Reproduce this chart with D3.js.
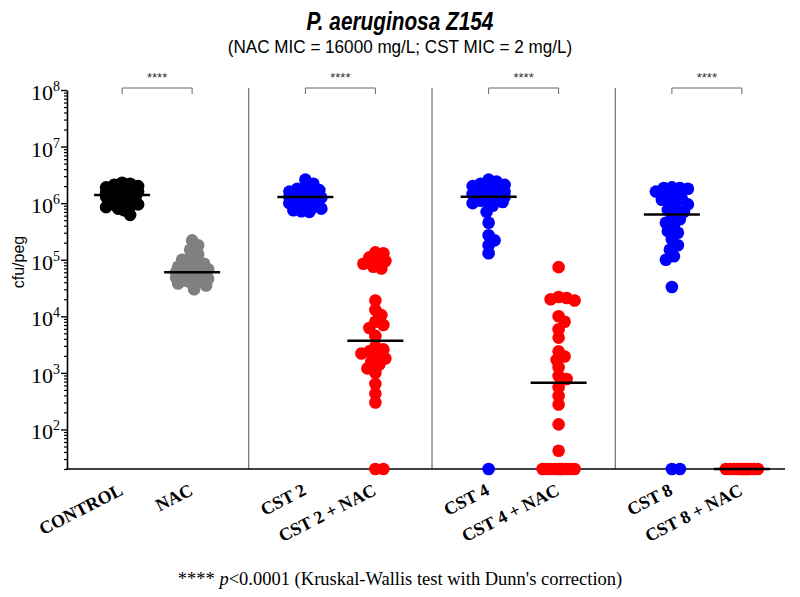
<!DOCTYPE html>
<html>
<head>
<meta charset="utf-8">
<script src="https://cdn.jsdelivr.net/npm/d3@7"></script>
<style>
  body { margin: 0; background: #fff; }
  svg { display: block; }
</style>
</head>
<body>
<div id="chart"></div>
<script>
// chart data (cfu/peg); 20 = below detection limit
var categories = ["CONTROL", "NAC", "CST 2", "CST 2 + NAC", "CST 4", "CST 4 + NAC", "CST 8", "CST 8 + NAC"];
var colors = ["#000000", "#808080", "#0000ff", "#ff0000", "#0000ff", "#ff0000", "#0000ff", "#ff0000"];

var control = [2.3e6, 2.2e6, 2.1e6, 2.0e6, 1.9e6, 1.85e6, 1.8e6, 1.7e6, 1.65e6, 1.6e6, 1.55e6, 1.5e6, 1.45e6, 1.42e6, 1.4e6,
  1.38e6, 1.35e6, 1.3e6, 1.25e6, 1.2e6, 1.15e6, 1.1e6, 1.05e6, 1.0e6, 9.5e5, 9e5, 8.5e5, 8e5, 7.5e5, 6.2e5];
var nac = [2.2e5, 1.8e5, 1.5e5, 1.25e5, 1.1e5, 1.0e5, 9e4, 8.5e4, 8e4, 7.5e4, 7e4, 6.8e4, 6.5e4, 6.2e4, 6e4,
  6e4, 5.8e4, 5.5e4, 5.2e4, 5e4, 5e4, 4.8e4, 4.6e4, 4.5e4, 4.3e4, 4.2e4, 4e4, 3.8e4, 3.5e4, 3e4];
var cst2 = [2.6e6, 2.2e6, 1.9e6, 1.8e6, 1.7e6, 1.6e6, 1.55e6, 1.5e6, 1.45e6, 1.4e6, 1.35e6, 1.3e6, 1.3e6, 1.28e6,
  1.25e6, 1.2e6, 1.15e6, 1.1e6, 1.05e6, 1.0e6, 9.5e5, 9e5, 8.5e5, 8e5, 7.5e5, 7.2e5, 7e5];
var cst2Nac = [1.35e5, 1.3e5, 1.1e5, 1.0e5, 9.5e4, 8.5e4, 7.5e4, 7e4, 1.9e4, 1.3e4, 1.05e4, 8e3, 7e3, 6.2e3, 4.5e3,
  2.9e3, 2.6e3, 2.4e3, 2.2e3, 2.0e3, 1.8e3, 1.6e3, 1.4e3, 1.2e3, 1.0e3, 640, 430, 300, 20, 20];
var cst4 = [2.6e6, 2.4e6, 2.2e6, 2.1e6, 2.0e6, 1.9e6, 1.8e6, 1.75e6, 1.7e6, 1.6e6, 1.55e6, 1.5e6, 1.45e6, 1.4e6, 1.35e6, 1.3e6,
  1.3e6, 1.25e6, 1.2e6, 1.15e6, 1.1e6, 1.1e6, 1.05e6, 1.0e6, 9e5, 7e5, 4.5e5, 2.7e5, 2.2e5, 1.8e5, 1.3e5, 20];
var cst4Nac = [7.4e4, 2.2e4, 2.1e4, 2e4, 1.9e4, 1e4, 8e3, 5.9e3, 4.2e3, 2.4e3, 1.95e3, 1.7e3, 1.26e3, 880, 780,
  560, 390, 277, 123, 42, 20, 20, 20, 20, 20, 20, 20, 20, 20, 20];
var cst8 = [1.9e6, 1.85e6, 1.85e6, 1.8e6, 1.6e6, 1.5e6, 1.4e6, 1.2e6, 1.15e6, 1.08e6, 9.5e5, 8.2e5, 7.6e5, 7e5,
  5.6e5, 5.2e5, 4.5e5, 4e5, 3.2e5, 3e5, 2.3e5, 1.8e5, 1.5e5, 1.15e5, 1e5, 3.3e4, 20, 20];
var cst8Nac = [20, 20, 20, 20, 20, 20, 20, 20, 20, 20, 20, 20];

var seriesValues = [control, nac, cst2, cst2Nac, cst4, cst4Nac, cst8, cst8Nac];
var majorTicks = [1e2, 1e3, 1e4, 1e5, 1e6, 1e7, 1e8];
var tickExponents = ["2", "3", "4", "5", "6", "7", "8"];

var svgWidth = 800;
var svgHeight = 597;

var svg = d3.select("#chart")
  .append("svg")
  .attr("width", svgWidth)
  .attr("height", svgHeight);

// scales
var y = d3.scaleLog().domain([20, 1e8]).range([469, 90]);
var xPair = d3.scaleBand().domain([0, 1, 2, 3]).range([65.5, 798.5]);
var xIn = d3.scalePoint().domain([0, 1]).range([-35, 35]);
function cx(i) {
  return xPair(Math.floor(i / 2)) + xPair.bandwidth() / 2 + xIn(i % 2);
}

// titles
svg.append("text")
  .attr("transform", "translate(400, 30) scale(0.8, 1)")
  .attr("text-anchor", "middle")
  .style("font-family", "'Liberation Sans', Arial, sans-serif")
  .style("font-weight", "bold")
  .style("font-style", "italic")
  .style("font-size", "26px")
  .text("P. aeruginosa Z154");

svg.append("text")
  .attr("transform", "translate(400, 53) scale(0.9, 1)")
  .attr("text-anchor", "middle")
  .style("font-family", "'Liberation Sans', Arial, sans-serif")
  .style("font-size", "19px")
  .text("(NAC MIC = 16000 mg/L; CST MIC = 2 mg/L)");

// separators between pairs
svg.selectAll(".sep")
  .data([1, 2, 3])
  .enter()
  .append("line")
  .attr("x1", d => xPair(d))
  .attr("x2", d => xPair(d))
  .attr("y1", y(1e8) - 2)
  .attr("y2", y(20))
  .attr("stroke", "#555")
  .attr("stroke-width", 1);

// y axis: minor ticks then major ticks
var minorTicks = [];
for (var e = 1; e < 8; e++) {
  for (var m = 2; m <= 9; m++) {
    var v = m * Math.pow(10, e);
    if (v >= 20) minorTicks.push(v);
  }
}

svg.append("g")
  .attr("transform", "translate(67, 0)")
  .call(d3.axisLeft(y).tickValues(minorTicks).tickSize(3).tickFormat(() => ""))
  .call(g => g.select(".domain").remove())
  .selectAll("line").attr("stroke-width", 1.2);

var yAxisG = svg.append("g")
  .attr("transform", "translate(67, 0)")
  .call(d3.axisLeft(y).tickValues(majorTicks).tickSize(6).tickSizeOuter(0).tickFormat(() => ""));
yAxisG.select(".domain").attr("stroke-width", 1.6);
yAxisG.selectAll("line").attr("stroke-width", 1.4);

var tickLabels = svg.selectAll(".ytl")
  .data(majorTicks)
  .enter()
  .append("text")
  .attr("x", 60)
  .attr("y", d => y(d) + 10)
  .attr("text-anchor", "end")
  .style("font-family", "'Liberation Serif', 'Times New Roman', serif")
  .style("font-size", "22px");
tickLabels.append("tspan").text("10");
tickLabels.append("tspan")
  .attr("dy", -9)
  .style("font-size", "14px")
  .text((d, i) => tickExponents[i]);

// y label
svg.append("text")
  .attr("transform", "translate(24, 262) rotate(-90)")
  .attr("text-anchor", "middle")
  .style("font-family", "'Liberation Sans', Arial, sans-serif")
  .style("font-size", "16px")
  .text("cfu/peg");

// x axis line
svg.append("line")
  .attr("x1", 66.2)
  .attr("x2", 785)
  .attr("y1", y(20))
  .attr("y2", y(20))
  .attr("stroke", "#000")
  .attr("stroke-width", 1.6);

// simple swarm layout so dots spread sideways around the category
function swarm(vals) {
  var pts = vals.map(v => ({ v: v, y: y(v) })).sort((a, b) => a.y - b.y);
  var placed = [];
  var step = 2, minD = 7.5, maxOff = 16;
  pts.forEach(function (p) {
    var best = 0, bestScore = -1;
    outer:
    for (var k = 0; k <= maxOff / step; k++) {
      var signs = k ? [1, -1] : [1];
      for (var s = 0; s < signs.length; s++) {
        var dx = signs[s] * k * step;
        var d = placed.length ? d3.min(placed, q => Math.hypot(q.dx - dx, q.y - p.y)) : Infinity;
        if (d >= minD) { best = dx; break outer; }
        if (d > bestScore) { bestScore = d; best = dx; }
      }
    }
    p.dx = best;
    placed.push(p);
  });
  return pts;
}

seriesValues.forEach(function (vals, i) {
  var pts = swarm(vals);
  svg.append("g")
    .selectAll("circle")
    .data(pts)
    .enter()
    .append("circle")
    .attr("cx", d => cx(i) + d.dx)
    .attr("cy", d => d.y)
    .attr("r", 6.3)
    .attr("fill", colors[i]);
});

// median lines on top of the dots
svg.selectAll(".median")
  .data(seriesValues)
  .enter()
  .append("line")
  .attr("x1", (d, i) => cx(i) - 28)
  .attr("x2", (d, i) => cx(i) + 28)
  .attr("y1", d => y(d3.median(d)))
  .attr("y2", d => y(d3.median(d)))
  .attr("stroke", "#000")
  .attr("stroke-width", 2.5);

// significance brackets
var brackets = svg.selectAll(".bracket")
  .data([0, 1, 2, 3])
  .enter()
  .append("g");
brackets.append("path")
  .attr("d", d => "M" + cx(2 * d) + ",94V88H" + cx(2 * d + 1) + "V94")
  .attr("fill", "none")
  .attr("stroke", "#666")
  .attr("stroke-width", 1);
brackets.append("text")
  .attr("x", d => (cx(2 * d) + cx(2 * d + 1)) / 2)
  .attr("y", 82)
  .attr("text-anchor", "middle")
  .style("font-family", "'Liberation Sans', Arial, sans-serif")
  .style("font-size", "13px")
  .attr("fill", "#333")
  .text("****");

// x labels, rotated
svg.selectAll(".xl")
  .data(categories)
  .enter()
  .append("text")
  .attr("transform", (d, i) => "translate(" + (cx(i) + 2) + ", 494) rotate(-27)")
  .attr("text-anchor", "end")
  .style("font-family", "'Liberation Serif', 'Times New Roman', serif")
  .style("font-weight", "bold")
  .style("font-size", "18px")
  .text(d => d);

// footnote
var foot = svg.append("text")
  .attr("x", 400)
  .attr("y", 585)
  .attr("text-anchor", "middle")
  .style("font-family", "'Liberation Serif', 'Times New Roman', serif")
  .style("font-size", "18.5px");
foot.append("tspan").text("**** ");
foot.append("tspan").style("font-style", "italic").text("p");
foot.append("tspan").text("<0.0001 (Kruskal-Wallis test with Dunn's correction)");
</script>
</body>
</html>
